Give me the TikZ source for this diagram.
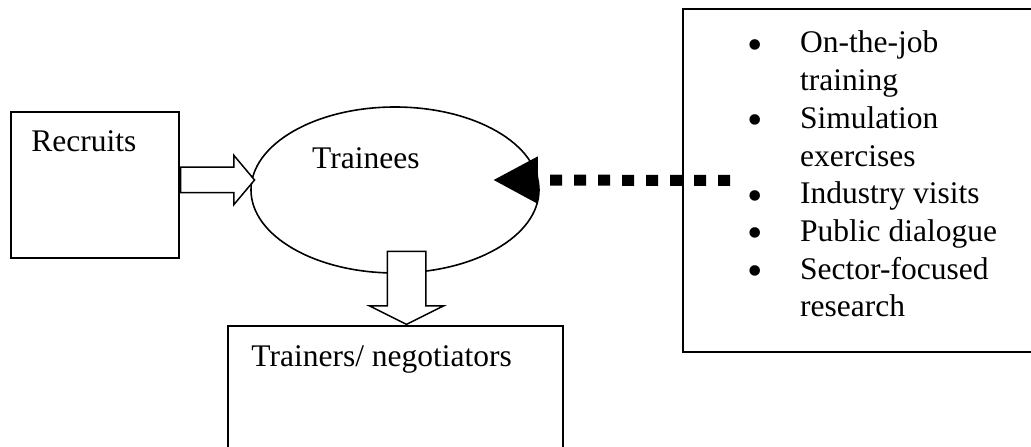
\documentclass[tikz,border=0pt]{standalone}
\usepackage{fontspec}
\setmainfont{Liberation Serif}
\usepackage{tikz}
\usetikzlibrary{shapes.geometric}
\usetikzlibrary{shapes.arrows}
\usetikzlibrary{arrows.meta}
\usetikzlibrary{calc}

\newcommand{\bigdot}{\makebox[20pt]{\raisebox{-6.5pt}[0pt][0pt]{\fontsize{44}{44}\selectfont\textbullet}}}

\begin{document}
\begin{tikzpicture}[x=1pt, y=1pt, >={Triangle[length=45pt, width=44pt]},
        font=\fontsize{31.5}{37.7}\selectfont,
        box/.style={draw, line width=1.6pt, inner sep=0pt},
        hollow/.style={single arrow, draw, fill=white, line width=1.5pt, inner xsep=0pt, minimum width=0pt},
        txt/.style={inner sep=0pt, anchor=base west}]
        \useasboundingbox (0,0) rectangle (1031,447);
        \clip (0,0) rectangle (1031,447);
        % boxes and the ellipse
        \node [box, minimum width=168pt, minimum height=146pt] (recruits) at (95,262) {};
        \node [box, ellipse, minimum width=288pt, minimum height=166pt] (trainees) at (395,257) {};
        \node [box, minimum width=335pt, minimum height=181pt] (trainers) at (395.5,30.5) {};
        \node [box, minimum width=362pt, minimum height=343pt] (methods) at (864,266.5) {};
        % labels
        \node [txt] (recruitslbl) at ([shift={(21,-40)}]recruits.north west) {Recruits};
        \node [txt] (traineeslbl) at ([shift={(-83,21)}]trainees.center) {Trainees};
        \node [txt] (trainerslbl) at ([shift={(24,-41)}]trainers.north west) {Trainers/ negotiators};
        \node [txt] (methodslist) at (745,394) {\begin{tabular}[t]{@{}l@{\hspace{35pt}}l@{}}
            \bigdot & On-the-job\\
            & training\\
            \bigdot & Simulation\\
            & exercises\\
            \bigdot & Industry visits\\
            \bigdot & Public dialogue\\
            \bigdot & Sector-focused\\
            & research
        \end{tabular}};
        % hollow arrows
        \node [hollow, inner ysep=12pt, single arrow head extend=12pt, single arrow tip angle=100,
            minimum height=74pt, anchor=tail] (intake) at ([yshift=5pt]recruits.east) {};
        \node [hollow, rotate=-90, inner ysep=18.5pt, single arrow head extend=18pt, single arrow tip angle=127,
            minimum height=73pt, anchor=tip] (output) at ([xshift=11pt]trainers.north) {};
        % dotted feed
        \coordinate (feedend) at ($(trainees.east)+(-47,10)$);
        \draw [->, line width=11pt, dash pattern=on 12pt off 12pt] ([xshift=48pt]methods.west) -- (feedend);
    \end{tikzpicture}
\end{document}
